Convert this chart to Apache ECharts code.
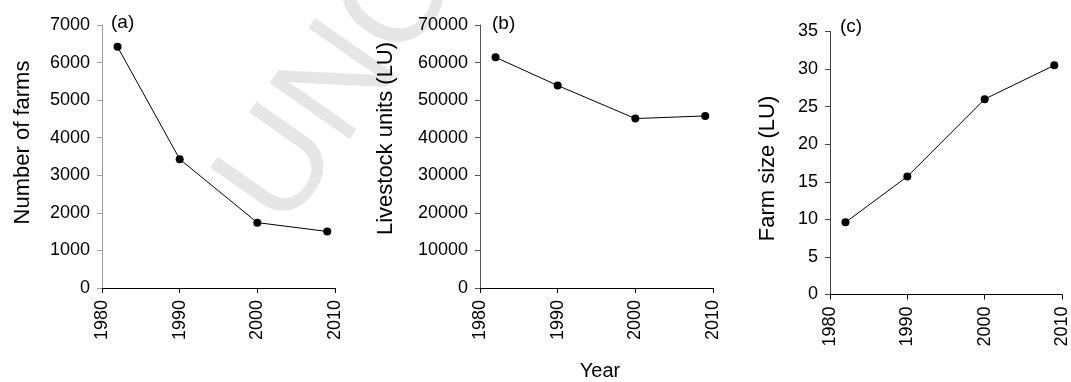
<!DOCTYPE html>
<html>
<head>
<meta charset="utf-8">
<script src="https://cdn.jsdelivr.net/npm/echarts@6/dist/echarts.min.js"></script>
<style>
html,body{margin:0;padding:0;background:#fff;}
#chart{width:1071px;height:382px;}
</style>
</head>
<body>
<div id="chart"></div>
<script>
// Data
var years = [1982, 1990, 2000, 2009];
var farms = [6420, 3430, 1740, 1505];
var livestock = [61400, 53900, 45100, 45800];
var farmSize = [9.6, 15.7, 26.0, 30.5];
var xTicks = [1980, 1990, 2000, 2010];
var panelLabels = ['(a)', '(b)', '(c)'];
var yTitles = ['Number of farms', 'Livestock units (LU)', 'Farm size (LU)'];
var xTitle = 'Year';
var watermark = 'UNCORRECTED PROOF';

var FONT = '"Liberation Sans", Arial, Helvetica, sans-serif';
var chart = echarts.init(document.getElementById('chart'), null, {renderer: 'canvas'});

function pairs(ys) { return years.map(function (y, i) { return [y, ys[i]]; }); }
function plain(v) { return String(v); }

var grids = [
  {left: 102, top: 25, width: 233, height: 263},
  {left: 480, top: 25, width: 233, height: 263},
  {left: 830, top: 31.5, width: 232, height: 263}
];
var yCfg = [
  {max: 7000, interval: 1000, color: '#a0a0a0'},
  {max: 70000, interval: 10000, color: '#555555'},
  {max: 35, interval: 5, color: '#444444'}
];

var xAxes = grids.map(function (g, i) {
  return {
    type: 'value', gridIndex: i, min: xTicks[0], max: xTicks[xTicks.length - 1], interval: 10,
    axisLine: {show: true, lineStyle: {color: '#000', width: 1}},
    axisTick: {show: true, length: 5, lineStyle: {color: '#000'}},
    splitLine: {show: false},
    axisLabel: {rotate: 90, margin: 12, color: '#000', fontSize: 18, fontFamily: FONT, formatter: plain}
  };
});
var yAxes = grids.map(function (g, i) {
  return {
    type: 'value', gridIndex: i, min: 0, max: yCfg[i].max, interval: yCfg[i].interval,
    axisLine: {show: true, onZero: false, lineStyle: {color: yCfg[i].color, width: 1}},
    axisTick: {show: true, length: 5, lineStyle: {color: yCfg[i].color}},
    splitLine: {show: false},
    axisLabel: {margin: 12, color: '#000', fontSize: 18, fontFamily: FONT, formatter: plain}
  };
});

var seriesData = [farms, livestock, farmSize];
var series = seriesData.map(function (d, i) {
  return {
    type: 'line', xAxisIndex: i, yAxisIndex: i, data: pairs(d),
    symbol: 'circle', symbolSize: 8, showSymbol: true,
    lineStyle: {color: '#000', width: 1},
    itemStyle: {color: '#000'},
    z: 5, silent: true
  };
});

var labelPos = [[111, 23], [492, 24], [840, 27]];
var titlePos = [[23, 142.5], [386, 138.5], [768, 168.5]];

var graphics = [{
  type: 'text', x: 252, y: 210, rotation: 55 * Math.PI / 180, z: -10, silent: true,
  style: {text: watermark, font: '142px ' + FONT, fill: '#e6e6e6', align: 'left', verticalAlign: 'middle'}
}];
panelLabels.forEach(function (t, i) {
  graphics.push({type: 'text', x: labelPos[i][0], y: labelPos[i][1], z: 10,
    style: {text: t, font: '19px ' + FONT, fill: '#000', align: 'left', verticalAlign: 'middle'}});
});
yTitles.forEach(function (t, i) {
  graphics.push({type: 'text', x: titlePos[i][0], y: titlePos[i][1], rotation: Math.PI / 2, z: 10,
    style: {text: t, font: '22px ' + FONT, fill: '#000', align: 'center', verticalAlign: 'middle'}});
});
graphics.push({type: 'text', x: 600, y: 371, z: 10,
  style: {text: xTitle, font: '20px ' + FONT, fill: '#000', align: 'center', verticalAlign: 'middle'}});

chart.setOption({
  animation: false,
  backgroundColor: '#fff',
  grid: grids,
  xAxis: xAxes,
  yAxis: yAxes,
  series: series,
  graphic: graphics
});
</script>
</body>
</html>
